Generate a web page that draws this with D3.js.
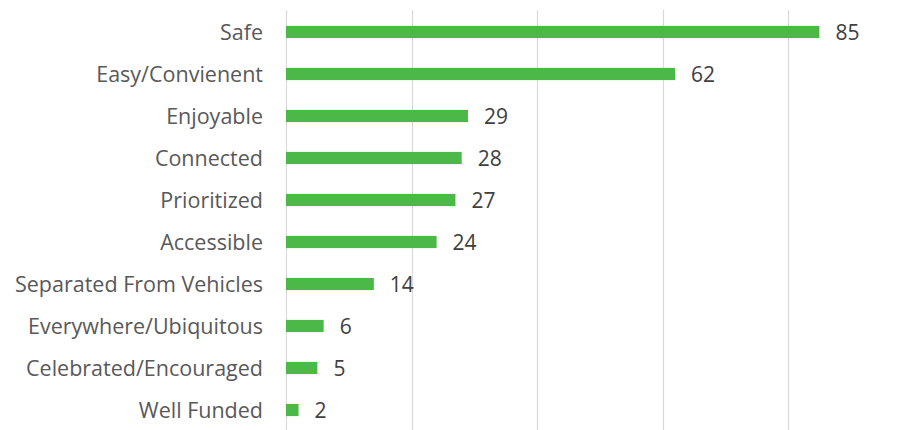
<!DOCTYPE html>
<html><head><meta charset="utf-8">
<script src="https://cdn.jsdelivr.net/npm/d3@7"></script>
<style>body{margin:0;background:#fff}svg{display:block}</style>
</head><body>
<svg id="c" width="899" height="430"></svg>
<script>
const categories = ["Safe","Easy/Convienent","Enjoyable","Connected","Prioritized","Accessible","Separated From Vehicles","Everywhere/Ubiquitous","Celebrated/Encouraged","Well Funded"];
const values = [85,62,29,28,27,24,14,6,5,2];
const gridTicks = [0,20,40,60,80];

const svg = d3.select("#c");
const x = d3.scaleLinear().domain([0,100]).range([286, 913.5]);
const y = d3.scaleBand().domain(categories).range([11, 431]).paddingInner(0.71).paddingOuter(0.355);

svg.append("g").selectAll("line").data(gridTicks).join("line")
  .attr("x1", d=>Math.round(x(d))+0.5).attr("x2", d=>Math.round(x(d))+0.5)
  .attr("y1", 10).attr("y2", 430)
  .attr("stroke", "#d9d9d9").attr("stroke-width", 1.2);

svg.append("g").selectAll("rect").data(values).join("rect")
  .attr("x", x(0)).attr("y", (d,i)=>y(categories[i]))
  .attr("width", d=>x(d)-x(0)).attr("height", y.bandwidth())
  .attr("fill", "#4cb848");

const font = "'Open Sans', sans-serif";
svg.append("g").selectAll("text").data(categories).join("text")
  .attr("x", 263).attr("y", d=>y(d)+y.bandwidth()/2)
  .attr("dy", "0.36em").attr("text-anchor", "end")
  .attr("font-family", font).attr("font-size", 21.5).attr("fill", "#595959")
  .text(d=>d);

svg.append("g").selectAll("text").data(values).join("text")
  .attr("x", d=>x(d)+16).attr("y", (d,i)=>y(categories[i])+y.bandwidth()/2)
  .attr("dy", "0.36em")
  .attr("font-family", font).attr("font-size", 21).attr("fill", "#404040")
  .text(d=>d);
</script>
</body></html>
